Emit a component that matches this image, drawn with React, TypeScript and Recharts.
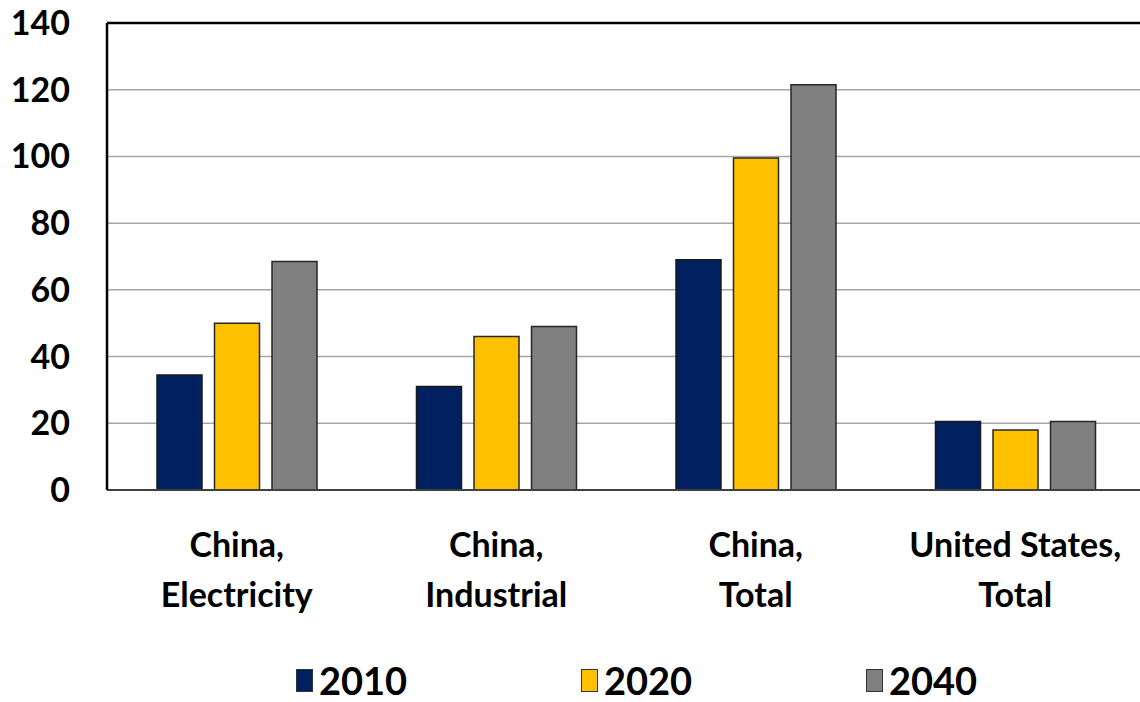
import React from 'react';
import { Bar, BarChart, CartesianGrid, Legend, ReferenceLine, XAxis, YAxis } from 'recharts';

const categories = ['China,\nElectricity', 'China,\nIndustrial', 'China,\nTotal', 'United States,\nTotal'];
const values2010 = [34.5, 31, 69, 20.5];
const values2020 = [50, 46, 99.5, 18];
const values2040 = [68.5, 49, 121.5, 20.5];
const yTicks = [0, 20, 40, 60, 80, 100, 120, 140];

const FONT = 'Lato, "Open Sans", sans-serif';
const NAVY = '#002060';
const GOLD = '#FFC000';
const GREY = '#808080';

const data = categories.map((name, i) => ({
  name,
  y2010: values2010[i],
  y2020: values2020[i],
  y2040: values2040[i],
}));

// two-line category label, first line ends with the comma
function CategoryTick({ x, y, payload }: any) {
  const lines = String(payload.value).split('\n');
  return (
    <text x={x} y={y} textAnchor="middle" fill="#000" fontSize={34} fontWeight={700} fontFamily={FONT}>
      {lines.map((line, i) => (
        <tspan key={i} x={x} y={y + 67 + i * 50}>
          {line}
        </tspan>
      ))}
    </text>
  );
}

function YearLegend({ payload }: any) {
  return (
    <div style={{ display: 'flex', alignItems: 'center', height: 42 }}>
      {(payload || []).map((entry: any) => (
        <div key={entry.value} style={{ display: 'flex', alignItems: 'center', width: 285 }}>
          <span
            style={{
              display: 'inline-block',
              width: 17,
              height: 23,
              background: entry.color,
              border: '1px solid #333',
              boxSizing: 'border-box',
              marginRight: 6,
            }}
          />
          <span style={{ fontFamily: FONT, fontWeight: 700, fontSize: 38, color: '#000', lineHeight: '42px' }}>
            {entry.value}
          </span>
        </div>
      ))}
    </div>
  );
}

export default function App() {
  return (
    <div style={{ position: 'fixed', left: 0, top: 0, width: 1140, height: 702, overflow: 'hidden', background: '#fff' }}>
      <BarChart
        width={1150}
        height={702}
        data={data}
        margin={{ top: 23, right: 5, bottom: 0, left: 0 }}
        barSize={45}
        barGap={12.5}
        style={{ fontFamily: FONT }}
      >
        <CartesianGrid horizontal vertical={false} stroke="#a6a6a6" strokeWidth={1.5} />
        <XAxis
          dataKey="name"
          height={170}
          tickLine={false}
          tickSize={0}
          tickMargin={0}
          axisLine={{ stroke: '#404040', strokeWidth: 2 }}
          tick={<CategoryTick />}
          interval={0}
        />
        <YAxis
          width={107}
          domain={[0, 140]}
          ticks={yTicks}
          tickLine={false}
          tickSize={0}
          tickMargin={37}
          axisLine={{ stroke: '#000', strokeWidth: 2.5 }}
          tick={{ fill: '#000', fontSize: 34, fontWeight: 700, fontFamily: FONT }}
        />
        <ReferenceLine y={140} stroke="#000" strokeWidth={2.5} />
        <Legend
          content={<YearLegend />}
          wrapperStyle={{ left: 296, top: 659, width: 860, height: 42 }}
        />
        <Bar dataKey="y2010" name="2010" fill={NAVY} stroke="#1a1a1a" strokeWidth={1.5} isAnimationActive={false} />
        <Bar dataKey="y2020" name="2020" fill={GOLD} stroke="#262626" strokeWidth={1.5} isAnimationActive={false} />
        <Bar dataKey="y2040" name="2040" fill={GREY} stroke="#262626" strokeWidth={1.5} isAnimationActive={false} />
      </BarChart>
    </div>
  );
}
